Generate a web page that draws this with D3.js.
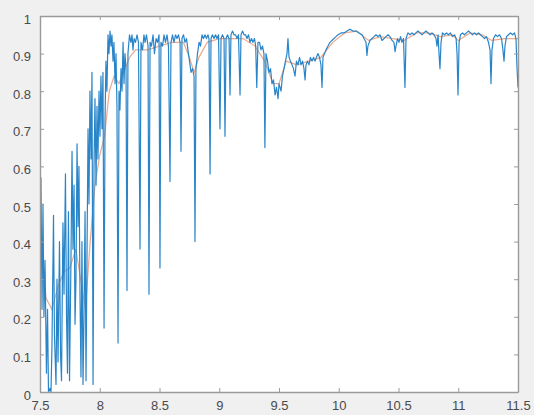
<!DOCTYPE html>
<html>
<head>
<meta charset="utf-8">
<script src="https://cdn.jsdelivr.net/npm/d3@7"></script>
<style>
  html, body { margin: 0; padding: 0; background: #f0f0f0; }
  svg { display: block; }
  text { font-family: "Liberation Sans", Arial, sans-serif; }
</style>
</head>
<body>
<svg id="chart" width="534" height="415"></svg>
<script>
// Measured transmission spectrum (wavelength in µm)
const wavelength = [
  7.500, 7.508, 7.517, 7.525, 7.533, 7.542, 7.554, 7.563, 7.571, 7.584, 7.592, 7.600, 7.613, 7.621,
  7.634, 7.642, 7.651, 7.663, 7.672, 7.680, 7.692, 7.701, 7.713, 7.722, 7.730, 7.738, 7.747, 7.759,
  7.768, 7.776, 7.785, 7.793, 7.801, 7.810, 7.818, 7.826, 7.835, 7.843, 7.851, 7.860, 7.868, 7.877,
  7.885, 7.893, 7.902, 7.910, 7.918, 7.927, 7.935, 7.944, 7.952, 7.960, 7.969, 7.977, 7.985, 7.994,
  8.002, 8.010, 8.019, 8.027, 8.036, 8.044, 8.052, 8.060, 8.069, 8.077, 8.086, 8.094, 8.102, 8.111,
  8.119, 8.128, 8.136, 8.144, 8.153, 8.161, 8.169, 8.178, 8.186, 8.195, 8.203, 8.211, 8.220, 8.228,
  8.236, 8.249, 8.261, 8.270, 8.278, 8.287, 8.299, 8.312, 8.324, 8.337, 8.345, 8.358, 8.370, 8.379,
  8.391, 8.404, 8.412, 8.421, 8.433, 8.446, 8.458, 8.471, 8.483, 8.496, 8.504, 8.512, 8.525, 8.538,
  8.550, 8.563, 8.575, 8.588, 8.596, 8.609, 8.621, 8.634, 8.646, 8.659, 8.672, 8.680, 8.688, 8.701,
  8.713, 8.726, 8.738, 8.751, 8.764, 8.776, 8.789, 8.797, 8.805, 8.818, 8.831, 8.843, 8.856, 8.868,
  8.881, 8.893, 8.906, 8.914, 8.923, 8.931, 8.943, 8.956, 8.969, 8.981, 8.994, 9.006, 9.015, 9.027,
  9.040, 9.048, 9.057, 9.069, 9.082, 9.090, 9.098, 9.111, 9.123, 9.136, 9.149, 9.161, 9.174, 9.182,
  9.195, 9.207, 9.220, 9.232, 9.245, 9.257, 9.270, 9.282, 9.295, 9.305, 9.314, 9.324, 9.337, 9.349,
  9.362, 9.374, 9.382, 9.391, 9.404, 9.416, 9.429, 9.441, 9.454, 9.467, 9.479, 9.492, 9.500, 9.517,
  9.529, 9.542, 9.554, 9.567, 9.575, 9.584, 9.596, 9.609, 9.621, 9.634, 9.646, 9.659, 9.672, 9.684,
  9.697, 9.709, 9.718, 9.726, 9.738, 9.751, 9.763, 9.776, 9.789, 9.801, 9.813, 9.826, 9.839, 9.851,
  9.860, 9.868, 9.881, 9.893, 9.910, 9.927, 9.943, 9.960, 9.977, 9.994, 10.019, 10.044, 10.069, 10.094,
  10.119, 10.144, 10.169, 10.195, 10.211, 10.228, 10.236, 10.244, 10.261, 10.278, 10.295, 10.312, 10.328, 10.345,
  10.362, 10.379, 10.395, 10.412, 10.429, 10.446, 10.462, 10.471, 10.479, 10.492, 10.504, 10.517, 10.529, 10.542,
  10.554, 10.563, 10.579, 10.596, 10.613, 10.630, 10.646, 10.663, 10.680, 10.697, 10.713, 10.730, 10.747, 10.764,
  10.780, 10.797, 10.814, 10.822, 10.831, 10.839, 10.847, 10.856, 10.868, 10.885, 10.902, 10.918, 10.935, 10.952,
  10.969, 10.982, 10.990, 10.998, 11.007, 11.019, 11.036, 11.052, 11.069, 11.086, 11.102, 11.119, 11.136, 11.153,
  11.169, 11.186, 11.203, 11.220, 11.236, 11.253, 11.266, 11.274, 11.282, 11.295, 11.312, 11.329, 11.345, 11.362,
  11.374, 11.383, 11.391, 11.404, 11.420, 11.437, 11.454, 11.471, 11.483, 11.492, 11.500
];
const transmission = [
  0.48, 0.57, 0.22, 0.50, 0.20, 0.35, 0.05, 0.22, 0.00, 0.01, 0.00, 0.12, 0.47, 0.15,
  0.02, 0.30, 0.08, 0.40, 0.10, 0.03, 0.45, 0.26, 0.58, 0.20, 0.05, 0.48, 0.03, 0.35,
  0.64, 0.38, 0.55, 0.18, 0.30, 0.66, 0.44, 0.60, 0.25, 0.04, 0.40, 0.02, 0.20, 0.48,
  0.03, 0.35, 0.70, 0.50, 0.80, 0.62, 0.85, 0.02, 0.60, 0.78, 0.55, 0.76, 0.62, 0.80,
  0.68, 0.84, 0.70, 0.85, 0.17, 0.72, 0.88, 0.80, 0.95, 0.90, 0.96, 0.92, 0.95, 0.88,
  0.93, 0.82, 0.90, 0.76, 0.13, 0.80, 0.75, 0.86, 0.80, 0.93, 0.82, 0.90, 0.86, 0.27,
  0.90, 0.95, 0.93, 0.95, 0.91, 0.94, 0.93, 0.95, 0.93, 0.38, 0.93, 0.91, 0.95, 0.93,
  0.95, 0.92, 0.26, 0.93, 0.92, 0.95, 0.90, 0.94, 0.93, 0.95, 0.33, 0.93, 0.92, 0.95,
  0.93, 0.95, 0.92, 0.56, 0.93, 0.95, 0.93, 0.95, 0.94, 0.95, 0.93, 0.64, 0.94, 0.95,
  0.93, 0.94, 0.91, 0.88, 0.85, 0.86, 0.84, 0.40, 0.86, 0.90, 0.93, 0.92, 0.95, 0.94,
  0.95, 0.94, 0.95, 0.94, 0.58, 0.94, 0.95, 0.94, 0.95, 0.94, 0.95, 0.70, 0.94, 0.95,
  0.94, 0.68, 0.94, 0.95, 0.94, 0.79, 0.95, 0.96, 0.95, 0.95, 0.94, 0.95, 0.79, 0.95,
  0.96, 0.95, 0.95, 0.94, 0.95, 0.93, 0.94, 0.93, 0.94, 0.92, 0.81, 0.93, 0.93, 0.91,
  0.92, 0.90, 0.65, 0.90, 0.88, 0.85, 0.86, 0.82, 0.83, 0.79, 0.81, 0.78, 0.82, 0.80,
  0.84, 0.86, 0.88, 0.90, 0.94, 0.89, 0.88, 0.87, 0.86, 0.84, 0.88, 0.87, 0.89, 0.87,
  0.88, 0.86, 0.83, 0.87, 0.88, 0.87, 0.89, 0.88, 0.89, 0.88, 0.89, 0.90, 0.89, 0.87,
  0.81, 0.89, 0.90, 0.91, 0.92, 0.93, 0.935, 0.94, 0.945, 0.95, 0.955, 0.955, 0.96, 0.965,
  0.96, 0.96, 0.955, 0.95, 0.94, 0.93, 0.895, 0.92, 0.935, 0.94, 0.945, 0.95, 0.945, 0.95,
  0.935, 0.94, 0.945, 0.95, 0.945, 0.935, 0.93, 0.905, 0.92, 0.94, 0.93, 0.945, 0.93, 0.94,
  0.81, 0.94, 0.955, 0.95, 0.955, 0.95, 0.955, 0.96, 0.955, 0.95, 0.955, 0.96, 0.955, 0.95,
  0.955, 0.95, 0.94, 0.92, 0.95, 0.90, 0.86, 0.93, 0.955, 0.95, 0.955, 0.95, 0.955, 0.945,
  0.95, 0.94, 0.90, 0.79, 0.93, 0.95, 0.955, 0.95, 0.955, 0.96, 0.955, 0.95, 0.955, 0.95,
  0.955, 0.95, 0.945, 0.94, 0.945, 0.93, 0.91, 0.82, 0.91, 0.94, 0.95, 0.945, 0.95, 0.94,
  0.91, 0.88, 0.92, 0.945, 0.95, 0.955, 0.95, 0.955, 0.94, 0.86, 0.81
];

// Smoothed fit of the same spectrum
const smoothWavelength = [
  7.50, 7.55, 7.60, 7.65, 7.70, 7.75, 7.80, 7.85, 7.88, 7.92, 7.96, 8.00, 8.04, 8.08, 8.12, 8.16,
  8.20, 8.25, 8.30, 8.40, 8.50, 8.60, 8.70, 8.75, 8.79, 8.83, 8.90, 9.00, 9.10, 9.20, 9.30, 9.38,
  9.45, 9.50, 9.56, 9.65, 9.75, 9.85, 9.95, 10.05, 10.15, 10.25, 10.35, 10.45, 10.55, 10.65, 10.75,
  10.85, 10.95, 11.00, 11.10, 11.20, 11.28, 11.39, 11.50
];
const smoothTransmission = [
  0.45, 0.25, 0.22, 0.28, 0.32, 0.33, 0.38, 0.28, 0.22, 0.40, 0.55, 0.63, 0.68, 0.80, 0.84, 0.82,
  0.85, 0.89, 0.91, 0.91, 0.92, 0.93, 0.93, 0.89, 0.85, 0.89, 0.93, 0.94, 0.94, 0.94, 0.92, 0.88,
  0.82, 0.82, 0.88, 0.87, 0.88, 0.89, 0.93, 0.955, 0.96, 0.935, 0.945, 0.94, 0.935, 0.955, 0.955,
  0.945, 0.95, 0.935, 0.955, 0.95, 0.935, 0.94, 0.94
];

const xTicks = [7.5, 8, 8.5, 9, 9.5, 10, 10.5, 11, 11.5];
const yTicks = [0, 0.1, 0.2, 0.3, 0.4, 0.5, 0.6, 0.7, 0.8, 0.9, 1];

const svg = d3.select("#chart");
const plot = { left: 40, right: 518, top: 16, bottom: 392 };

const x = d3.scaleLinear().domain([7.5, 11.5]).range([plot.left, plot.right]);
const y = d3.scaleLinear().domain([0, 1]).range([plot.bottom, plot.top]);

// figure background and white axes area
svg.append("rect").attr("width", 534).attr("height", 415).attr("fill", "#f0f0f0");
svg.append("rect")
  .attr("x", plot.left).attr("y", plot.top)
  .attr("width", plot.right - plot.left).attr("height", plot.bottom - plot.top)
  .attr("fill", "#ffffff");

svg.append("clipPath").attr("id", "plotClip")
  .append("rect")
  .attr("x", plot.left).attr("y", plot.top)
  .attr("width", plot.right - plot.left).attr("height", plot.bottom - plot.top);

const g = svg.append("g").attr("clip-path", "url(#plotClip)");

const line = d3.line().x(d => x(d[0])).y(d => y(d[1]));

g.append("path")
  .datum(smoothWavelength.map((w, i) => [w, smoothTransmission[i]]))
  .attr("d", line)
  .attr("fill", "none")
  .attr("stroke", "#D95319")
  .attr("stroke-opacity", 0.5)
  .attr("stroke-width", 1.2);

g.append("path")
  .datum(wavelength.map((w, i) => [w, transmission[i]]))
  .attr("d", line)
  .attr("fill", "none")
  .attr("stroke", "#2a85c8")
  .attr("stroke-width", 1.2)
  .attr("stroke-linejoin", "round");

// axes: ticks inward on all four sides, MATLAB style
const axisColor = "#9a9a9a";
const tickLen = 4;

const bottomAxis = d3.axisBottom(x).tickValues(xTicks).tickSizeInner(-tickLen).tickSizeOuter(0)
  .tickPadding(9).tickFormat(d3.format("~g"));
const topAxis = d3.axisTop(x).tickValues(xTicks).tickSizeInner(-tickLen).tickSizeOuter(0).tickFormat("");
const leftAxis = d3.axisLeft(y).tickValues(yTicks).tickSizeInner(-tickLen).tickSizeOuter(0)
  .tickPadding(9).tickFormat(d3.format("~g"));
const rightAxis = d3.axisRight(y).tickValues(yTicks).tickSizeInner(-tickLen).tickSizeOuter(0).tickFormat("");

function style(sel) {
  sel.selectAll(".domain").attr("stroke", axisColor).attr("stroke-width", 1.4);
  sel.selectAll(".tick line").attr("stroke", axisColor).attr("stroke-width", 1);
  sel.selectAll(".tick text").attr("fill", "#4a4a4a").style("font-size", "13px")
    .style("font-family", "'Liberation Sans', Arial, sans-serif");
}

svg.append("g").attr("transform", `translate(0,${plot.bottom})`).call(bottomAxis).call(style);
svg.append("g").attr("transform", `translate(0,${plot.top})`).call(topAxis).call(style);
svg.append("g").attr("transform", `translate(${plot.left},0)`).call(leftAxis).call(style)
  .selectAll(".tick text").attr("dy", "0.55em");
svg.append("g").attr("transform", `translate(${plot.right},0)`).call(rightAxis).call(style);
</script>
</body>
</html>
